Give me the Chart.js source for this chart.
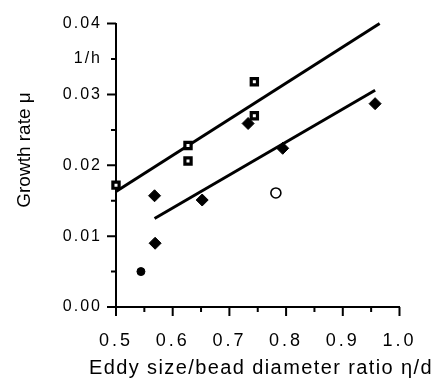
<!DOCTYPE html>
<html><head><meta charset="utf-8">
<script src="https://cdn.jsdelivr.net/npm/chart.js@4"></script>
<style>html,body{margin:0;padding:0;background:#fff}#wrap{width:435px;height:385px;position:relative}</style>
</head><body><div id="wrap"><canvas id="c"></canvas></div>
<script>
// ---- data ----
const squareX = [0.500, 0.627, 0.627, 0.744, 0.744];
const squareY = [0.0172, 0.0228, 0.0206, 0.0318, 0.0270];
const diamondX = [0.568, 0.569, 0.652, 0.733, 0.794, 0.957];
const diamondY = [0.0157, 0.0090, 0.0151, 0.0259, 0.0224, 0.0287];
const dotX = [0.544];
const dotY = [0.0050];
const openCircleX = [0.782];
const openCircleY = [0.0161];
const upperLineX = [0.500, 0.965];
const upperLineY = [0.0163, 0.0400];
const lowerLineX = [0.568, 0.957];
const lowerLineY = [0.0125, 0.0306];
const xTickValues = [0.5, 0.6, 0.7, 0.8, 0.9, 1.0];
const xTickLabels = ['0.5', '0.6', '0.7', '0.8', '0.9', '1.0'];
const xMinorValues = [0.55, 0.65, 0.75, 0.85, 0.95];
const yTickValues = [0, 0.01, 0.02, 0.03, 0.035, 0.04];
const yTickLabels = ['0.00', '0.01', '0.02', '0.03', '1/h', '0.04'];
const yMajorValues = [0, 0.01, 0.02, 0.03, 0.04];
const yMinorValues = [0.005, 0.015, 0.025, 0.035];
const xTitle = 'Eddy size/bead diameter ratio \u03b7/d';
const yTitle = 'Growth rate \u03bc';

const pts = (xs, ys) => xs.map((x, i) => ({x: x, y: ys[i]}));
const FONT = "'Liberation Sans', Arial, sans-serif";

function spaceLabels(scale, spacing) {
  if (scale._spaced) return;
  scale._spaced = true;
  const orig = scale.drawLabels.bind(scale);
  scale.drawLabels = function (area) {
    const ctx = this.ctx;
    const prev = ctx.letterSpacing;
    ctx.letterSpacing = spacing;
    orig(area);
    ctx.letterSpacing = prev;
  };
}

const marks = {
  id: 'marks',
  afterLayout(chart) {
    spaceLabels(chart.scales.x, '3px');
    spaceLabels(chart.scales.y, '2px');
  },
  afterDraw(chart) {
    const ctx = chart.ctx, a = chart.chartArea, xs = chart.scales.x, ys = chart.scales.y;
    ctx.save();
    ctx.strokeStyle = '#000'; ctx.lineWidth = 2; ctx.lineCap = 'butt';
    ctx.beginPath();
    xTickValues.forEach(v => { const p = xs.getPixelForValue(v); ctx.moveTo(p, a.bottom); ctx.lineTo(p, a.bottom + 9); });
    xMinorValues.forEach(v => { const p = xs.getPixelForValue(v); ctx.moveTo(p, a.bottom); ctx.lineTo(p, a.bottom + 5); });
    yMajorValues.forEach(v => { const p = ys.getPixelForValue(v); ctx.moveTo(a.left, p); ctx.lineTo(a.left - 9, p); });
    yMinorValues.forEach(v => { const p = ys.getPixelForValue(v); ctx.moveTo(a.left, p); ctx.lineTo(a.left - 5, p); });
    ctx.stroke();
    ctx.fillStyle = '#000';
    ctx.letterSpacing = '1.4px';
    ctx.font = "20px " + FONT;
    ctx.textAlign = 'center'; ctx.textBaseline = 'alphabetic';
    ctx.fillText(xTitle, 261, 374);
    ctx.letterSpacing = '0px';
    ctx.translate(30, 150);
    ctx.rotate(-Math.PI / 2);
    ctx.font = "19px " + FONT;
    ctx.fillText(yTitle, 0, 0);
    ctx.restore();
  }
};

new Chart(document.getElementById('c'), {
  type: 'scatter',
  data: {
    datasets: [
      {data: pts(upperLineX, upperLineY), showLine: true, borderColor: '#000', borderWidth: 3, pointRadius: 0, order: 2, clip: false},
      {data: pts(lowerLineX, lowerLineY), showLine: true, borderColor: '#000', borderWidth: 3, pointRadius: 0, order: 2, clip: false},
      {data: pts(squareX, squareY), pointStyle: 'rect', pointRadius: 4.4, backgroundColor: '#fff', borderColor: '#000', borderWidth: 3.2, order: 1, clip: false},
      {data: pts(diamondX, diamondY), pointStyle: 'rectRot', pointRadius: 6, backgroundColor: '#000', borderColor: '#000', borderWidth: 1, order: 1, clip: false},
      {data: pts(dotX, dotY), pointStyle: 'circle', pointRadius: 4, backgroundColor: '#000', borderColor: '#000', borderWidth: 1, order: 1, clip: false},
      {data: pts(openCircleX, openCircleY), pointStyle: 'circle', pointRadius: 5, backgroundColor: '#fff', borderColor: '#000', borderWidth: 1.6, order: 1, clip: false}
    ]
  },
  options: {
    responsive: true, maintainAspectRatio: false, animation: false,
    layout: {padding: {left: 0, right: 18, top: 15, bottom: 0}},
    plugins: {legend: {display: false}, tooltip: {enabled: false}},
    scales: {
      x: {
        type: 'linear', min: 0.5, max: 1.0,
        afterFit(s) { s.height = 78; },
        afterBuildTicks(s) { s.ticks = xTickValues.map(v => ({value: v})); },
        grid: {display: false, drawTicks: false},
        border: {display: true, color: '#000', width: 2},
        ticks: {padding: 23, color: '#000', font: {family: FONT, size: 18}, maxRotation: 0, autoSkip: false,
          callback: (v) => { const i = xTickValues.findIndex(t => Math.abs(t - v) < 1e-9); return i >= 0 ? xTickLabels[i] : ''; }}
      },
      y: {
        type: 'linear', min: 0, max: 0.04,
        afterFit(s) { s.width = 116; },
        afterBuildTicks(s) { s.ticks = yTickValues.map(v => ({value: v})); },
        grid: {display: false, drawTicks: false},
        border: {display: true, color: '#000', width: 2},
        ticks: {padding: 14, color: '#000', font: {family: FONT, size: 16}, autoSkip: false,
          callback: (v) => { const i = yTickValues.findIndex(t => Math.abs(t - v) < 1e-9); return i >= 0 ? yTickLabels[i] : ''; }}
      }
    }
  },
  plugins: [marks]
});
</script></body></html>
